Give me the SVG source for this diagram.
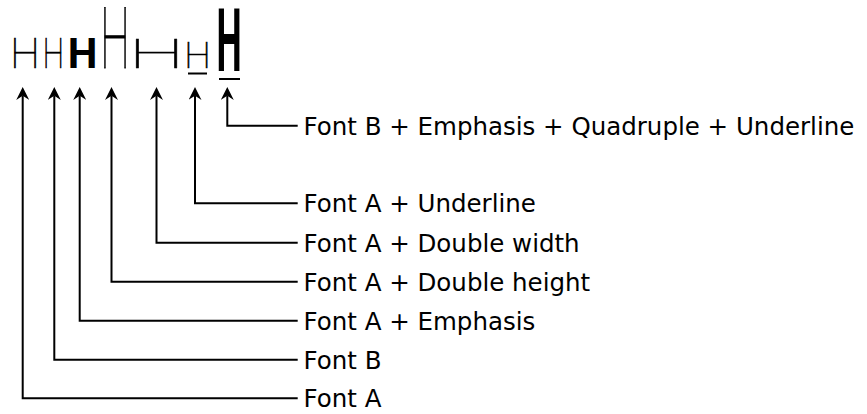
<svg xmlns="http://www.w3.org/2000/svg" width="867" height="414" viewBox="0 0 867 414">
<style>
.bg{fill:#fff}
.conn{fill:none;stroke:#000;stroke-width:2;marker-end:url(#arr)}
.lbl{font-family:"DejaVu Sans",sans-serif;font-size:24.5px;fill:#000}
.thin{font-family:Roboto,"DejaVu Sans",sans-serif;font-weight:100;font-size:42px;fill:#000;stroke:#000;stroke-width:0.6;text-anchor:middle}
.bold{font-family:Roboto,"DejaVu Sans",sans-serif;font-weight:700;font-size:42px;fill:#000;text-anchor:middle}
.ul{stroke:#000;stroke-width:2}
#samples{opacity:0.999}
</style>
<defs>
<marker id="arr" markerUnits="userSpaceOnUse" markerWidth="13" markerHeight="13" viewBox="0 0 12.5 12.6" refX="4" refY="6.3" orient="auto">
<path d="M0,0 L12.5,6.3 L0,12.6 L4,6.3 Z" fill="#000"/>
</marker>
</defs>
<rect class="bg" x="0" y="0" width="867" height="414"/>
<g id="samples">
<g id="h-fontA"><text class="thin" vector-effect="non-scaling-stroke" transform="translate(25,68)">H</text></g>
<g id="h-fontB"><text class="thin" vector-effect="non-scaling-stroke" transform="translate(53.3,68) scale(0.72,1)">H</text></g>
<g id="h-emph"><text class="bold" transform="translate(82.5,68)">H</text></g>
<g id="h-dheight"><text class="thin" vector-effect="non-scaling-stroke" transform="translate(115,68) scale(1,2.03)">H</text></g>
<g id="h-dwidth"><text class="thin" vector-effect="non-scaling-stroke" transform="translate(156.5,68) scale(1.9,0.97)">H</text></g>
<g id="h-underline"><text class="thin" vector-effect="non-scaling-stroke" transform="translate(197.5,68) scale(0.9,0.88)">H</text><line class="ul" x1="188" y1="73.5" x2="207" y2="73.5"/></g>
<g id="h-quad"><text class="bold" transform="translate(229,70.7) scale(0.85,2.07)">H</text><line class="ul" x1="219" y1="79" x2="240" y2="79"/></g>
</g>
<g id="connectors">
<path class="conn" d="M297.7,398.3 H22.7 V95.8"/>
<path class="conn" d="M297.7,359.7 H54.3 V95.8"/>
<path class="conn" d="M297.7,320.7 H79.7 V95.8"/>
<path class="conn" d="M297.7,281.7 H111.5 V95.8"/>
<path class="conn" d="M297.7,242.7 H156.5 V95.8"/>
<path class="conn" d="M297.7,203.3 H195 V95.8"/>
<path class="conn" d="M297.7,125.7 H227.3 V95.8"/>
</g>
<g id="labels">
<g id="l-quad"><text class="lbl" x="303.5" y="134.7">Font B + Emphasis + Quadruple + Underline</text></g>
<g id="l-underline"><text class="lbl" x="303.5" y="212.3">Font A + Underline</text></g>
<g id="l-dwidth"><text class="lbl" x="303.5" y="251.7">Font A + Double width</text></g>
<g id="l-dheight"><text class="lbl" x="303.5" y="290.7">Font A + Double height</text></g>
<g id="l-emph"><text class="lbl" x="303.5" y="329.7">Font A + Emphasis</text></g>
<g id="l-fontB"><text class="lbl" x="303.5" y="368.7">Font B</text></g>
<g id="l-fontA"><text class="lbl" x="303.5" y="407.3">Font A</text></g>
</g>
</svg>
